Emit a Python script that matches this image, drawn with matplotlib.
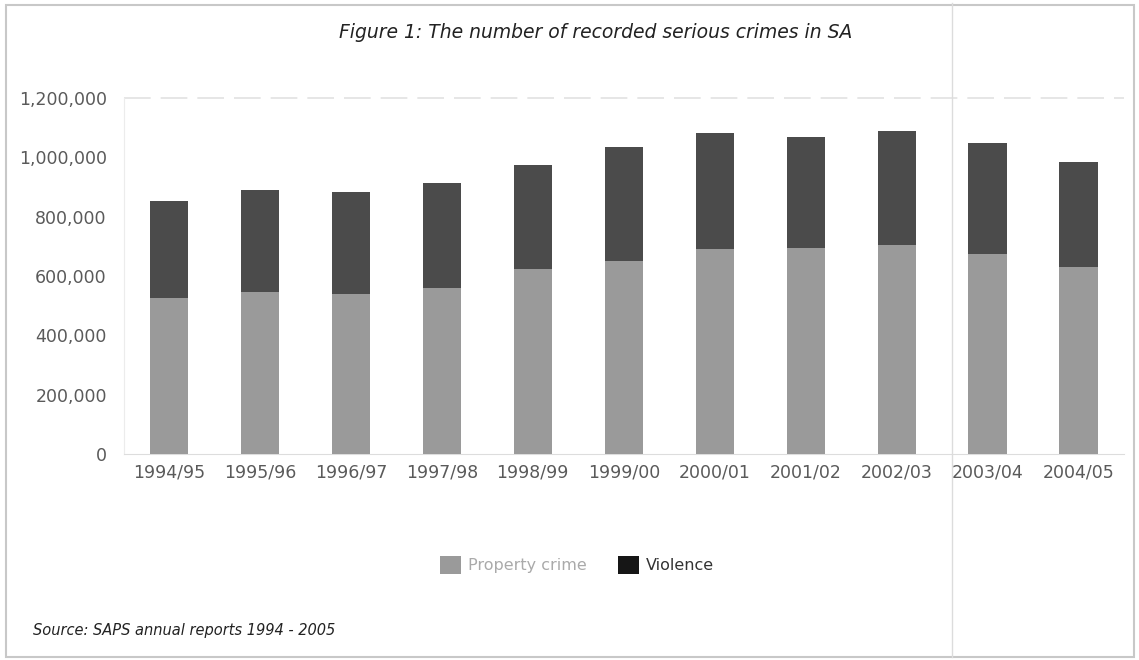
import matplotlib
matplotlib.use("Agg")
import matplotlib.pyplot as plt
from matplotlib.patches import Rectangle, Patch
from matplotlib.lines import Line2D
from matplotlib.ticker import FuncFormatter

years = ["1994/95", "1995/96", "1996/97", "1997/98", "1998/99", "1999/00",
         "2000/01", "2001/02", "2002/03", "2003/04", "2004/05"]
property_crime = [525000, 545000, 538000, 561000, 624000, 652000,
                  690000, 693000, 705000, 674000, 631000]
violence = [329000, 345000, 346000, 351000, 350000, 382000,
            393000, 375000, 385000, 373000, 354000]
yticks = [0, 200000, 400000, 600000, 800000, 1000000, 1200000]

prop_color = "#9a9a9a"
viol_color = "#4b4b4b"
viol_legend = "#161616"

fig = plt.figure(figsize=(11.39, 6.6), dpi=100)
fig.patch.set_facecolor("white")

# outer frame
fig.add_artist(Rectangle((6/1139, 3/660), 1128/1139, 652/660,
                         transform=fig.transFigure, fill=False,
                         edgecolor="#c8c8c8", linewidth=1.5))
# faint vertical scan line
fig.add_artist(Line2D([952/1139, 952/1139], [3/660, 657/660],
                      transform=fig.transFigure, color="#dcdcdc", linewidth=1))

ax = fig.add_axes([123.5/1139, 1-454/660, (1124-123.5)/1139, (454-98)/660])
ax.patch.set_alpha(0)
x = range(len(years))
ax.bar(x, property_crime, width=0.42, color=prop_color, zorder=3)
ax.bar(x, violence, width=0.42, bottom=property_crime, color=viol_color, zorder=3)

ax.set_xlim(-0.5, len(years) - 0.5)
ax.set_ylim(0, 1200000)
ax.set_yticks(yticks)
ax.yaxis.set_major_formatter(FuncFormatter(lambda v, p: f"{int(v):,}"))
ax.set_xticks(list(x))
ax.set_xticklabels(years)
ax.tick_params(axis="both", length=0, labelsize=12.5, labelcolor="#5a5a5a")
ax.tick_params(axis="x", pad=7)
ax.tick_params(axis="y", pad=12)

ax.axhline(yticks[-1], color="#e2e2e2", linewidth=1.2, linestyle=(0, (16, 6)), zorder=1,
           clip_on=False)
for side in ["top", "right"]:
    ax.spines[side].set_visible(False)
ax.spines["left"].set_color("#ececec")
ax.spines["bottom"].set_color("#dddddd")

fig.text(596/1139, 1-33/660, "Figure 1: The number of recorded serious crimes in SA",
         ha="center", va="center", style="italic", fontsize=13.5, color="#222222")

handles = [Patch(facecolor=prop_color, edgecolor="none", label="Property crime"),
           Patch(facecolor=viol_legend, edgecolor="none", label="Violence")]
leg = fig.legend(handles=handles, loc="center", bbox_to_anchor=(577/1139, 1-565/660),
                 ncol=2, frameon=False, fontsize=11.5, handlelength=1.3, handleheight=1.4,
                 columnspacing=2.0, handletextpad=0.4)
leg.get_texts()[0].set_color("#aaaaaa")
leg.get_texts()[1].set_color("#333333")

fig.text(33/1139, 1-631/660, "Source: SAPS annual reports 1994 - 2005",
         ha="left", va="center", style="italic", fontsize=10.5, color="#222222")

fig.savefig("out.png", dpi=100)
